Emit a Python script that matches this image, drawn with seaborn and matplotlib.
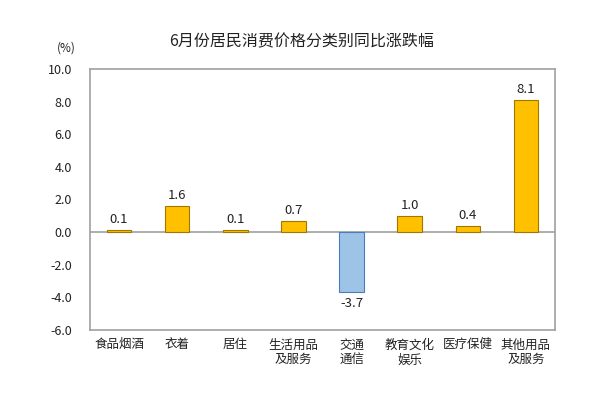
import numpy as np
import pandas as pd
import matplotlib.pyplot as plt
import seaborn as sns

categories = ['食品烟酒', '衣着', '居住', '生活用品\n及服务', '交通\n通信', '教育文化\n娱乐', '医疗保健', '其他用品\n及服务']
values = [0.1, 1.6, 0.1, 0.7, -3.7, 1.0, 0.4, 8.1]
yticks = [-6.0, -4.0, -2.0, 0.0, 2.0, 4.0, 6.0, 8.0, 10.0]

sns.set_style('white')
plt.rcParams['font.family'] = ['Noto Sans CJK SC', 'DejaVu Sans']

df = pd.DataFrame({'cat': categories, 'val': values})
fill = ['#9DC3E6' if v < 0 else '#FFC000' for v in values]
edge = ['#4A7EBB' if v < 0 else '#A07800' for v in values]

fig = plt.figure(figsize=(6.03, 3.94), dpi=100)
ax = fig.add_axes([90 / 603, 1 - 330 / 394, 465 / 603, 261 / 394])

sns.barplot(data=df, x='cat', y='val', hue='cat', palette=fill, legend=False,
            width=0.42, saturation=1, ax=ax)
for patch, ec in zip(ax.patches, edge):
    patch.set_edgecolor(ec)
    patch.set_linewidth(0.8)

ax.axhline(0, color='#a0a0a0', lw=1.2, zorder=0.5)
ax.set_ylim(-6, 10)
ax.set_xlim(-0.5, len(categories) - 0.5)
ax.set_yticks(yticks)
ax.set_yticklabels([f'{t:.1f}' for t in yticks], fontsize=9, color='#222222')
ax.tick_params(axis='x', labelsize=9, colors='#222222', pad=6, length=0)
ax.tick_params(axis='y', length=0, pad=13)
ax.set_xlabel('')
ax.set_ylabel('')
for s in ax.spines.values():
    s.set_color('#a0a0a0')
    s.set_linewidth(1.2)

for i, v in enumerate(values):
    if v >= 0:
        ax.text(i, v + 0.25, f'{v:.1f}', ha='center', va='bottom', fontsize=9.5, color='#222222')
    else:
        ax.text(i, v - 0.3, f'{v:.1f}', ha='center', va='top', fontsize=9.5, color='#222222')

fig.text(66 / 603, 1 - 48 / 394, '(%)', ha='center', va='center', fontsize=8.5, color='#222222')
fig.text(0.5, 1 - 42 / 394, '6月份居民消费价格分类别同比涨跌幅', ha='center', va='center',
         fontsize=11.5, color='#222222')

fig.savefig('out.png', dpi=100)
